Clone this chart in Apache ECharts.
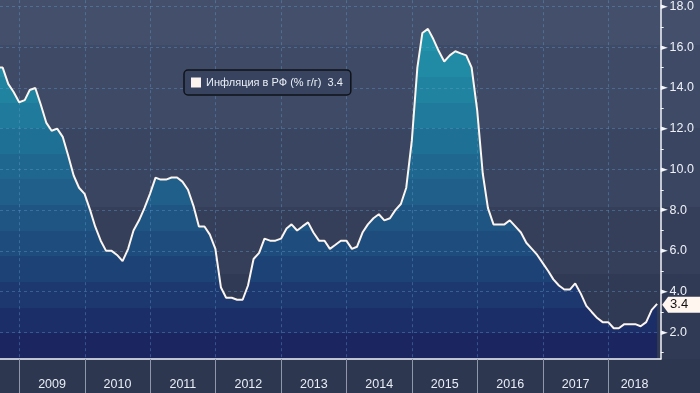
<!DOCTYPE html>
<html>
<head>
<meta charset="utf-8">
<script src="https://cdn.jsdelivr.net/npm/echarts@6/dist/echarts.min.js"></script>
<style>html,body{margin:0;padding:0;background:#2d3750}#c{width:700px;height:393px}</style>
</head>
<body>
<div id="c"></div>
<script>
// ---- data (monthly y/y CPI, month-end) ----
const seriesName = 'Инфляция в РФ (% г/г)';
const firstYear = 2008;
const firstMonth = 8; // August 2008
const cpi2008 = [15.0, 15.0, 14.2, 13.8, 13.3];
const cpi2009 = [13.4, 13.9, 14.0, 13.2, 12.3, 11.9, 12.0, 11.6, 10.7, 9.7, 9.1, 8.8];
const cpi2010 = [8.0, 7.2, 6.5, 6.0, 6.0, 5.8, 5.5, 6.1, 7.0, 7.5, 8.1, 8.8];
const cpi2011 = [9.6, 9.5, 9.5, 9.6, 9.6, 9.4, 9.0, 8.2, 7.2, 7.2, 6.8, 6.1];
const cpi2012 = [4.2, 3.7, 3.7, 3.6, 3.6, 4.3, 5.6, 5.9, 6.6, 6.5, 6.5, 6.6];
const cpi2013 = [7.1, 7.3, 7.0, 7.2, 7.4, 6.9, 6.5, 6.5, 6.1, 6.3, 6.5, 6.5];
const cpi2014 = [6.1, 6.2, 6.9, 7.3, 7.6, 7.8, 7.5, 7.6, 8.0, 8.3, 9.1, 11.4];
const cpi2015 = [15.0, 16.7, 16.9, 16.4, 15.8, 15.3, 15.6, 15.8, 15.7, 15.6, 15.0, 12.9];
const cpi2016 = [9.8, 8.1, 7.3, 7.3, 7.3, 7.5, 7.2, 6.9, 6.4, 6.1, 5.8, 5.4];
const cpi2017 = [5.0, 4.6, 4.3, 4.1, 4.1, 4.4, 3.9, 3.3, 3.0, 2.7, 2.5, 2.5];
const cpi2018 = [2.2, 2.2, 2.4, 2.4, 2.4, 2.3, 2.5, 3.1, 3.4];
const yearlyValues = [cpi2008, cpi2009, cpi2010, cpi2011, cpi2012, cpi2013, cpi2014, cpi2015, cpi2016, cpi2017, cpi2018];

const yearLabels = ['2009', '2010', '2011', '2012', '2013', '2014', '2015', '2016', '2017', '2018'];
const yTickValues = [2, 4, 6, 8, 10, 12, 14, 16, 18];
const yMinorTickValues = [1, 3, 5, 7, 9, 11, 13, 15, 17];

// ---- axis ranges (x in UTC timestamps) ----
const xMin = Date.UTC(2008, 8, 15);
const xMax = Date.UTC(2018, 9, 20);
const yMin = 0.69, yMax = 18.31;

// ---- build series data ----
const data = [];
yearlyValues.forEach((arr, yi) => {
  const year = firstYear + yi;
  const m0 = yi === 0 ? firstMonth : 1;
  arr.forEach((v, k) => {
    const m = m0 + k; // 1-based month
    data.push([Date.UTC(year, m, 0), v]); // last day of month m
  });
});
const last = data[data.length - 1];

const yearStarts = yearLabels.map(y => Date.UTC(+y, 0, 1));
const labelCenters = yearLabels.map(y => {
  const a = Date.UTC(+y, 0, 1);
  const b = Math.min(Date.UTC(+y + 1, 0, 1), xMax);
  return (a + b) / 2;
});

// ---- styles ----
function stepped(bands, total) {
  const stops = [];
  bands.forEach(b => {
    stops.push({offset: b[0] / total, color: b[2]});
    stops.push({offset: b[1] / total, color: b[2]});
  });
  return stops;
}
const bgGradient = {
  type: 'linear', x: 0, y: 0, x2: 0, y2: 1,
  colorStops: stepped([
    [0, 45, '#434f6b'], [45, 128, '#3e4a66'], [128, 207, '#3a4561'],
    [207, 274, '#353f5a'], [274, 359, '#303a54'], [359, 393, '#2d3750']
  ], 393)
};
const areaBands = ['#2399b0', '#2292aa', '#218ba5', '#2083a0', '#207a9b', '#1f7095', '#1f678f',
  '#1f5f89', '#1e5583', '#1e4c7c', '#1d4276', '#1c386f', '#1c2e68', '#1b2560'];
const bandH = 359 / areaBands.length;
const areaGradient = {
  type: 'linear', x: 0, y: 0, x2: 0, y2: 359, global: true,
  colorStops: stepped(areaBands.map((c, i) => [i * bandH, (i + 1) * bandH, c]), 359)
};
const gridLineStyle = {color: 'rgba(100,160,210,0.38)', type: [3, 3], width: 1};
const white = '#f4f6fa';

const chart = echarts.init(document.getElementById('c'), null, {renderer: 'canvas'});
chart.setOption({
  animation: false,
  backgroundColor: bgGradient,
  grid: {left: 0, right: 39.3, top: 0, bottom: 34, containLabel: false},
  legend: {
    data: [seriesName],
    left: 184, top: 70,
    padding: [7, 8, 7, 7],
    backgroundColor: '#38445f',
    borderColor: '#0f1318', borderWidth: 1.5, borderRadius: 4,
    icon: 'rect', itemWidth: 10, itemHeight: 10,
    itemStyle: {color: '#fdf3ee', borderWidth: 0},
    textStyle: {color: '#e9eef7', fontSize: 11, fontFamily: 'Liberation Sans'},
    formatter: name => name + '  ' + last[1].toFixed(1)
  },
  xAxis: [
    {
      type: 'value', min: xMin, max: xMax, position: 'bottom', z: 3,
      axisLine: {show: true, onZero: false, lineStyle: {color: white, width: 1.5}},
      axisTick: {show: true, customValues: yearStarts, length: 34, lineStyle: {color: '#8f98ab', width: 1}},
      axisLabel: {show: false},
      splitLine: {show: true, lineStyle: gridLineStyle}
    },
    {
      type: 'value', min: xMin, max: xMax, position: 'bottom', z: 3,
      axisLine: {show: false, onZero: false},
      axisTick: {show: false},
      splitLine: {show: false},
      axisLabel: {
        show: true, customValues: labelCenters, margin: 19,
        color: '#e8edf6', fontSize: 12.5, fontFamily: 'Liberation Sans',
        formatter: v => String(new Date(v).getUTCFullYear())
      }
    }
  ],
  yAxis: [
    {
      type: 'value', position: 'right', min: yMin, max: yMax, z: 3,
      axisLine: {show: true, onZero: false, lineStyle: {color: white, width: 1.5}},
      axisTick: {show: true, customValues: yMinorTickValues, length: 3, lineStyle: {color: white, width: 1}},
      splitLine: {show: false},
      axisLabel: {
        show: true, customValues: yTickValues, margin: 0,
        formatter: v => '{t|►}{v|' + v.toFixed(1) + '}',
        rich: {
          t: {fontSize: 9, color: white, fontFamily: 'DejaVu Sans', padding: [0, 2, 0, 0], verticalAlign: 'middle'},
          v: {fontSize: 12.5, color: '#eef2f8', fontFamily: 'Liberation Sans', verticalAlign: 'middle'}
        }
      }
    },
    {
      type: 'value', position: 'right', min: yMin, max: yMax, z: 3,
      axisLine: {show: false, onZero: false},
      axisTick: {show: false, customValues: yTickValues},
      axisLabel: {show: false},
      splitLine: {show: true, lineStyle: gridLineStyle}
    }
  ],
  series: [
    {
      name: 'area', type: 'line', data: data, symbol: 'none', silent: true, z: 1,
      lineStyle: {width: 0}, areaStyle: {color: areaGradient, opacity: 1}
    },
    {
      name: seriesName, type: 'line', data: data, symbol: 'none', z: 5,
      lineStyle: {color: '#fdf5ef', width: 2},
      itemStyle: {color: '#fdf5ef'},
      markPoint: {
        silent: true,
        symbol: 'path://M0,8L6,0L40,0L40,16L6,16Z',
        symbolSize: [40, 16],
        symbolKeepAspect: false,
        symbolOffset: [25, 1],
        itemStyle: {color: '#fff6ef'},
        label: {show: true, color: '#111111', fontSize: 13, fontFamily: 'Liberation Sans',
                formatter: () => last[1].toFixed(1), offset: [-3, 0]},
        data: [{coord: last, value: last[1]}]
      }
    }
  ]
});
</script>
</body>
</html>
